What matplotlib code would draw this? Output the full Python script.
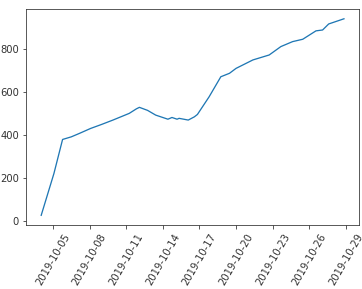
import pandas as pd
import matplotlib
matplotlib.use("Agg")
import matplotlib.pyplot as plt
import matplotlib.dates as mdates

# values
dates = ["2019-10-04 01:00", "2019-10-05 02:00", "2019-10-05 19:00",
         "2019-10-06 12:00", "2019-10-07 04:00", "2019-10-08 02:00", "2019-10-09 00:00",
         "2019-10-09 22:00", "2019-10-11 06:00", "2019-10-11 20:00", "2019-10-12 02:00",
         "2019-10-12 18:00", "2019-10-13 10:00", "2019-10-14 10:00", "2019-10-14 18:00",
         "2019-10-15 04:00", "2019-10-15 08:00", "2019-10-16 02:00", "2019-10-16 14:00",
         "2019-10-16 20:00", "2019-10-17 19:00", "2019-10-18 18:00", "2019-10-19 11:00",
         "2019-10-20 00:00", "2019-10-21 09:00", "2019-10-22 17:00", "2019-10-23 16:00",
         "2019-10-24 15:00", "2019-10-25 11:00", "2019-10-26 13:00", "2019-10-27 02:00",
         "2019-10-27 14:00", "2019-10-28 20:00"]
values = [28, 222, 380,
          392, 408, 431, 450,
          470, 501, 522, 529,
          515, 493, 474, 482,
          474, 478, 470, 485,
          496, 578, 671, 687,
          710, 749, 772, 811,
          834, 845, 884, 888,
          916, 940]

s = pd.Series(values, index=pd.to_datetime(dates))

fig = plt.figure(figsize=(362 / 72, 289 / 72), dpi=72)
ax = fig.add_axes([0.072, 0.221, 0.92, 0.748])
ax.plot(s.index, s.values, color="#1f77b4", linewidth=1.3)

ax.xaxis.set_major_locator(mdates.DayLocator(bymonthday=range(5, 30, 3)))
ax.xaxis.set_major_formatter(mdates.DateFormatter("%Y-%m-%d"))
ax.set_yticks([0, 200, 400, 600, 800])
plt.setp(ax.get_xticklabels(), rotation=60, ha="center")
ax.tick_params(labelsize=10, colors="#333333")
for sp in ax.spines.values():
    sp.set_color("#333333")

fig.savefig("out.png", dpi=72)
